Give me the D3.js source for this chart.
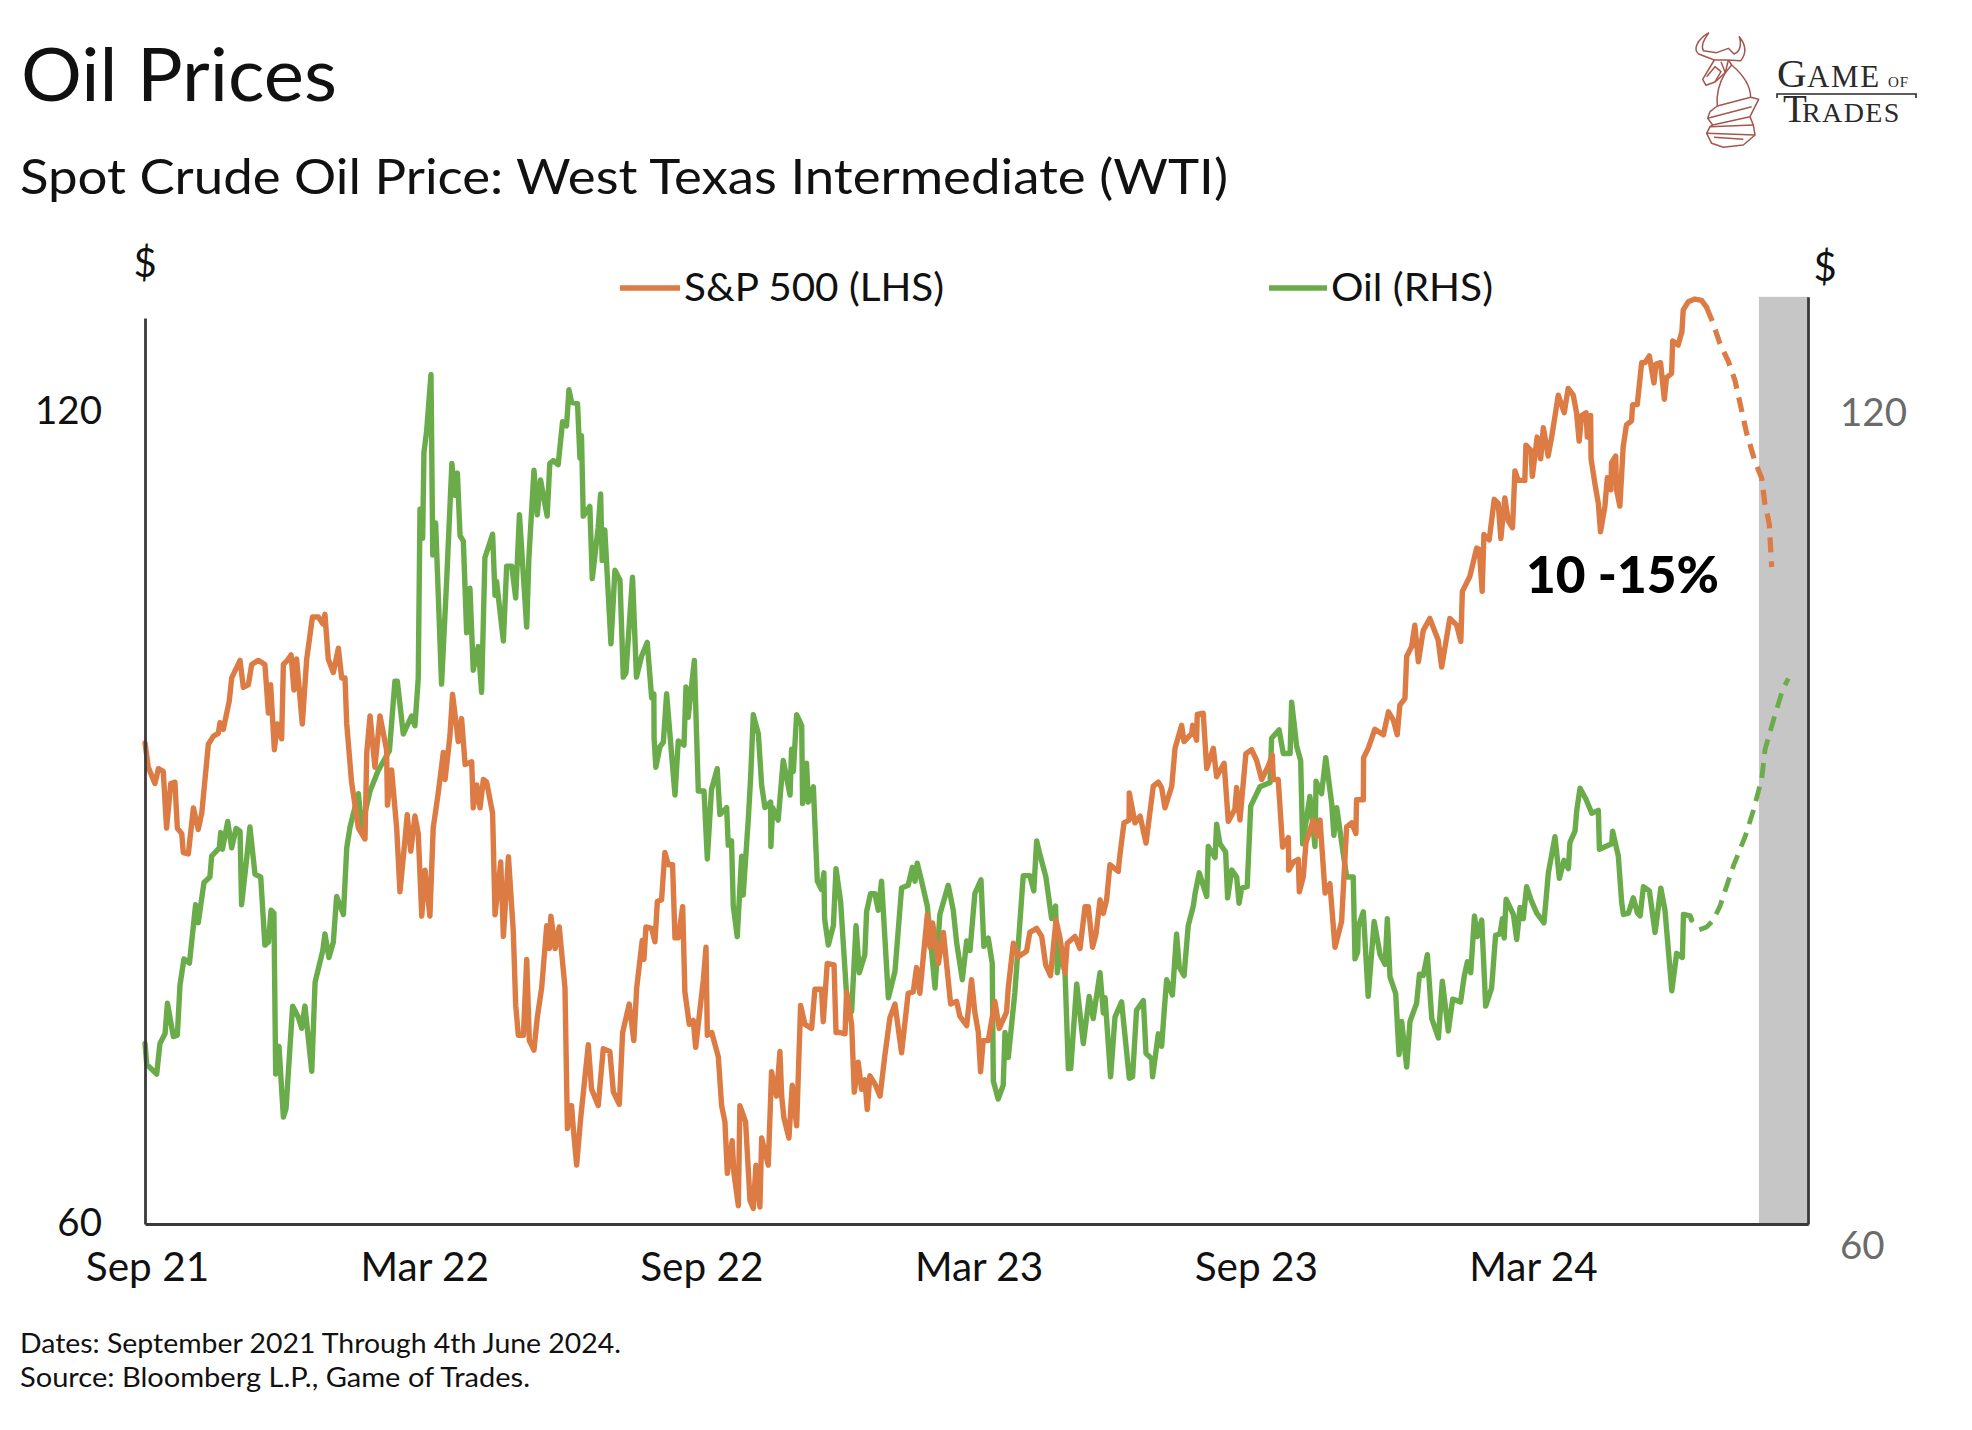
<!DOCTYPE html>
<html><head><meta charset="utf-8">
<script src="https://cdn.jsdelivr.net/npm/d3@7"></script>
<style>
html,body{margin:0;padding:0;background:#fff}
svg{display:block}
text{font-family:Lato,"Open Sans",sans-serif;fill:#111}
</style></head><body><svg id="c" width="1972" height="1430"></svg>
<script>
// [trading session since Sep 2021, value]
const spxSolid=[[0,95.4],[1.5,93.6],[4.5,92.4],[6.1,93.5],[8.3,93.3],[9.8,89.1],[11.7,92.4],[13.6,92.5],[14.7,89.1],[16.7,88.7],[17.4,87.3],[19.7,87.2],[22,90.6],[24.2,89],[25.8,90.2],[28.8,95.3],[31.1,95.9],[33.3,96.1],[34.1,96.9],[35.6,96.4],[38.3,98.5],[39.4,100.2],[43.2,101.5],[44.7,99.5],[47,99.7],[48.5,101.2],[51.5,101.5],[54.5,101.2],[56.1,97.6],[57.1,99.7],[58.8,94.9],[60.2,96.8],[62.1,95.7],[62.9,101.2],[64.7,101.5],[66.4,101.9],[67.7,99.3],[68.9,101.6],[71.5,96.8],[73.5,101.6],[76.1,104.7],[78.8,104.7],[80.8,104.2],[81.8,104.9],[83.3,101.6],[85.6,100.6],[87.9,102.4],[89.4,100.2],[90.9,100.2],[91.7,96.8],[93.9,92.5],[97,89.1],[100,88.3],[100.8,94.7],[102.3,97.4],[104.5,93.6],[106.8,97.4],[109.8,94.9],[110.2,90.8],[112.1,93.4],[114.4,89.1],[115.9,84.4],[118.2,88.3],[119.2,90.1],[120.8,87.4],[122.7,90],[124.2,88.7],[125.8,82.6],[127.3,86],[129.5,82.6],[131,89.1],[133.3,91.7],[135.6,94.7],[136.4,92.7],[138.6,95.9],[139.8,99],[142.4,95.5],[143.9,97.2],[145.5,93.8],[148.5,94],[149.2,90.6],[150.8,92.3],[152.3,90.6],[153.8,92.7],[155.3,92.5],[158,90.2],[159.1,82.7],[161.7,86.6],[162.9,81.1],[165.2,87],[167.4,81.5],[168.5,76],[169.7,73.8],[172,73.8],[173.5,79.4],[174.7,73.4],[176.8,72.7],[178.3,75.1],[180.3,77.3],[182.6,81.9],[183.8,80.2],[184.5,82.6],[186.4,80.2],[188.3,81.8],[190.9,77.3],[192,66.9],[193.9,68.6],[194.7,66.9],[196.2,64.2],[198,67.6],[201.5,73.1],[203,69.8],[206,68.6],[208.3,72.8],[211.3,72.6],[212.9,69.6],[215.6,68.7],[217.1,74],[220.1,76.1],[222.2,73.4],[223.5,77.3],[226,80.8],[226.8,79.4],[227.7,81.8],[230.3,81.7],[231.8,80.7],[232.9,83.7],[234.8,83.8],[236.3,87.3],[237.9,86.4],[239.8,86.4],[240.9,81],[242.4,81],[244.4,83.3],[245.4,77],[247.4,74.6],[249.2,74.9],[250.3,72.9],[253.8,77.9],[255,80.3],[255.6,73.8],[257.6,74],[260.6,72.2],[262.1,68.6],[263.6,67.4],[264.7,63.6],[266.9,66],[267.7,63.6],[269.7,61.2],[270.4,68.6],[273,67.4],[275,61.6],[276.5,61],[277.7,64.2],[279.5,61.1],[280.3,66.2],[283.3,64.2],[284.8,71.1],[287.1,69.3],[288.6,72.6],[289.4,69.3],[290.4,67.7],[292.7,66.2],[294.2,70.1],[296.2,67.1],[298,76],[300,74.6],[303,74.3],[304.5,77.2],[307.5,77.2],[308.3,74.8],[310.1,79.1],[313.2,79],[314.1,74],[315.9,74],[318.2,73.9],[318.9,77],[321.2,74.6],[322.4,69.6],[324.2,71.8],[325.7,69.8],[327.2,70.5],[328.3,68.3],[329.5,70.8],[331.8,70.2],[334.1,69.3],[336.3,72.3],[338.6,75.1],[340.9,76.1],[343.9,72.5],[346.9,76.9],[349.2,77],[350.7,78.8],[352.2,76.9],[355.6,82.7],[356.8,80.3],[358,82.1],[360.6,79.1],[362.9,81.4],[366.2,76.1],[368.9,76.3],[370.4,75.2],[373.5,74.5],[375.7,77.9],[377.2,75.5],[378.8,74],[379.8,71.1],[381,73.4],[383.3,73.4],[386.3,76.3],[388.3,74.3],[391.6,75.5],[392.4,77.3],[394.7,80.6],[396.9,79.6],[400.7,80],[402.2,81.4],[405.3,81.7],[407.6,81.1],[409.4,79],[411.6,78.2],[414.1,82.3],[415.9,81],[418.2,78.4],[419.2,80.6],[422.7,81.1],[425,80.2],[427.3,83.3],[428.8,83.3],[430.7,80.3],[432.3,81.3],[434.1,83.8],[435.6,82.8],[437.1,83.8],[438.6,86.4],[442.4,85.9],[442.9,86.8],[445,89.5],[447.3,89.7],[447.4,91.7],[450,89.5],[452.3,90],[455,88],[458.3,92.2],[460.6,92.5],[462.1,92.1],[463.6,90.6],[466.7,92.2],[468.2,95],[471.2,96.7],[472.3,95.5],[475.8,96.1],[476.2,96.7],[478,95.6],[478.3,97.5],[481,97.6],[482.6,93.5],[485.6,95],[487.1,92.9],[490.5,93.9],[492.4,89.6],[495.4,90.5],[496.2,92.1],[497.7,89.7],[500.4,94.6],[503,94.9],[505.3,94.1],[507.6,92.7],[510.6,93.7],[512.4,94.5],[512.9,92.7],[515.1,92.7],[517.1,87.7],[519.7,88.4],[519.9,86],[522,86.6],[524.2,86.8],[524.7,84.4],[526.5,85.5],[527.7,88],[531,89.7],[532.6,88.5],[534.1,89.7],[536.4,84.3],[538.6,85],[540.9,80.3],[543.9,82.2],[546.2,89.2],[548.5,89.5],[550.4,88.7],[550.7,91.2],[553.8,91.2],[553.9,94.3],[556,95],[559,96.4],[562.9,96],[565.2,97.7],[567.4,97.1],[569.2,96],[570.4,98.2],[572.7,98.7],[573.5,101.8],[575.7,102.5],[577.2,104.1],[578.8,101.4],[581,103.7],[584,104.6],[587.8,103],[589.4,101],[593.1,104.6],[596.2,104.1],[598.1,102.9],[598.8,106.6],[602.2,107.7],[605.3,109.8],[606.5,109.7],[607.8,106.6],[608.6,110.8],[611,110.4],[613.3,113.4],[615.1,113.1],[616.3,110.5],[618.1,113.5],[619.7,111.8],[621.6,111.3],[622.7,115.5],[624.2,114.8],[627.2,114.8],[627.7,117.4],[630,117],[630.6,115.1],[632.8,118],[634.4,116.4],[635.6,118.7],[637.8,116.6],[639.4,118],[642.4,121.1],[645.1,119.8],[646.9,121.6],[649.2,121.1],[650.7,119.8],[651.9,117.7],[653,119.6],[655,119.8],[655.6,118],[657.1,119.6],[657.3,116.4],[659.1,114.5],[660.6,113.1],[661.6,111],[663.6,112.9],[664.7,115],[666.3,114.1],[666.6,116.1],[668.5,116.6],[668.9,114.1],[670.4,112.9],[671.9,117.3],[673.4,118.9],[675.7,119.2],[676.2,120.4],[678.3,120.4],[680.3,123.5],[681.8,123.5],[683.8,124],[685.9,122],[686.8,123.4],[688.9,123.5],[690.6,120.8],[691.6,122.4],[693.9,122.7],[694.4,125.1],[696.9,124.8],[698.6,125.8],[699.2,127.4],[701.5,128],[704.5,128.2],[707.5,128.1],[709.8,127.6]];
const spxForecast=[[709.8,127.6],[712.8,126.4],[715.9,124.9],[719.7,123.6],[722.7,122.2],[725.3,120.3],[728,118.3],[731.8,116.2],[734.8,115],[736.3,113.1],[738.3,111.6],[739.4,108.4]];
const oilSolid=[[0,74.5],[0.8,73],[5.3,72.3],[6.8,74.5],[9.1,75.2],[10.2,77.4],[12.9,75],[14.7,75.1],[15.9,78.7],[17.7,80.6],[20.2,80.3],[23,84.5],[24.2,83.2],[26.8,86.1],[29.5,86.5],[30.3,88],[33.8,88.6],[34.4,89.7],[35.2,88.5],[37.6,90.5],[39.4,88.6],[41.4,90],[43.2,89.8],[43.9,84.5],[46.2,87.8],[47.7,90.1],[50,86.7],[52.6,86.5],[54.5,81.6],[56.1,81.8],[57.3,84.1],[58.6,83.9],[59.4,72.3],[60.9,74.3],[62.9,69.2],[64.1,69.8],[67.1,77.2],[69.7,76.4],[71.2,75.6],[72.7,77.2],[75.8,72.5],[77.3,78.9],[80.8,81.2],[81.8,82.4],[83.6,80.7],[85.6,81.8],[87.1,85.1],[90.2,83.8],[91.7,88.6],[93.2,90.1],[97,92.5],[98.5,90.1],[102.3,92.7],[106.1,94.2],[111.1,95.6],[113.6,100.6],[114.7,100.6],[117.4,96.8],[121.2,98.1],[122.7,97.4],[124.2,100.8],[125,113],[126.2,110.9],[126.8,117.1],[128,118.6],[130,122.7],[130.8,109.7],[132.1,112],[134.8,100.4],[137.1,107.8],[138.9,114.2],[139.5,116.3],[140.7,114],[142,115.6],[143.2,111.1],[144.7,110.7],[146.2,104.1],[147.7,107.3],[149.2,101.4],[151.5,103.1],[153,99.8],[154.5,109.5],[158,111.2],[159.1,106.8],[159.8,107.8],[162.9,103.5],[164.4,108.9],[166.7,108.9],[168.5,106.6],[170.2,112.6],[173.5,104.5],[174.5,109.5],[176.8,115.8],[178.3,112.6],[179.8,115.1],[182.8,112.5],[184,116.3],[185.6,116.5],[187.8,116.2],[189.8,119.3],[191.6,119],[192.7,121.6],[193.9,120.7],[196.6,120.6],[197.7,116.7],[198.4,118.3],[199.2,112.5],[202.2,113.2],[203.3,108],[206,111.7],[207.1,114.1],[207.8,109.3],[209,111.5],[211.8,103.3],[213.6,108.6],[215.9,107.9],[217.4,100.9],[218.6,101.2],[221.6,108.1],[223.4,100.9],[225.7,102.4],[228.3,103.4],[230.3,99.4],[231.3,99.7],[231.4,96.5],[232.2,94.4],[234.1,95.9],[235.6,96.2],[237.1,99.7],[238.6,96.8],[240.9,92.4],[242.4,96.3],[245,96],[245.9,100.2],[246.9,98],[249.7,102.1],[251.5,92.7],[254.1,92.7],[255.6,87.8],[257.5,92.8],[260.1,94.3],[261.3,91],[264.4,91.5],[265.1,88.8],[266.6,89.1],[267.4,84.4],[269.2,82.2],[271.2,88],[271.9,85.2],[274.2,90.6],[275.3,93.7],[276.5,98.2],[278.8,96.8],[280.3,93.1],[281.8,91.5],[284.4,91.9],[284.5,88.7],[285.3,91.5],[287.8,90.6],[290.1,94.9],[293.2,92.4],[293.9,95.7],[294.7,94.1],[296.2,98.2],[298.5,97.4],[298.9,91.8],[300.7,94.7],[301.5,91.9],[303.8,93],[305.6,86.2],[307.5,85.6],[308.6,86.8],[308.9,83.5],[310.6,81.6],[312.9,83],[314.1,87.1],[316.2,84.7],[318.9,78],[321.2,76.8],[323.2,83],[324.7,79.6],[327.2,80.9],[328,84],[329.8,85.3],[331.8,85.3],[333.3,84.1],[334.8,86.2],[337.9,77.8],[340.9,79.7],[343.9,85.7],[346.9,85.9],[348.8,87.2],[350,86.2],[351,87.5],[353,86.2],[355.6,84.4],[359.1,78.5],[361.3,83.8],[365.1,85.9],[367.4,84.1],[368.9,81.8],[371.5,79.1],[373.5,81.9],[375,81.2],[377.2,85.3],[380,86.3],[381.3,81.5],[383.3,82.1],[385.1,80.3],[385.6,71.8],[387.8,70.5],[390.1,71.5],[390.9,75.3],[392.4,73.5],[395.4,78.2],[399.2,86.6],[402.2,86.6],[404,85.5],[405.3,89.1],[406.8,88.1],[409.5,86.5],[412.1,83.5],[413.9,84.4],[414.7,79.6],[415.9,81.2],[418.2,79.6],[419.7,72.7],[420.8,72.7],[423.5,78.8],[426.5,74.5],[429.2,77.9],[431,76.3],[434.1,79.6],[435.6,76.7],[436.4,77.8],[438.9,72.1],[440.9,76.4],[443.9,77.5],[447.4,72],[448.9,72.1],[450.7,76.9],[453.8,77.6],[455,73.8],[457.6,73.4],[458,72.1],[460.6,75.2],[462.1,74.3],[463.2,76.7],[464.4,79.1],[467,78],[468.9,82.4],[470.1,80],[472.3,79.4],[474.2,83],[476.5,84.4],[477.3,85.3],[479.2,86.8],[482.6,85.1],[483.3,88.7],[486.4,87.9],[487.1,90.3],[488.6,88.9],[491.2,88.3],[492.1,85],[494,87],[496.2,86.5],[497.3,84.6],[498.5,85.7],[501,85.8],[502.6,91.6],[506.8,93],[511.4,93.3],[512.1,96.5],[515.5,97.1],[517.4,95.4],[520.5,95.4],[521.2,99.1],[523.5,95.9],[525.3,94.9],[526.2,88.9],[529.5,92.3],[531.8,88.7],[532.3,93.4],[534.8,92.5],[536.7,95.1],[539.4,91.8],[540.4,89.5],[541.7,91.5],[544,88.9],[546.2,86.5],[549.2,86.5],[550,80.6],[551.2,81.1],[551.5,82.9],[553.8,84],[556,77.9],[558.7,83.3],[561.4,80.9],[563.7,80.2],[564.7,83.5],[565.9,79.3],[568.5,78.1],[570,73.7],[571.2,76.1],[573.5,72.8],[575,76.1],[578,77.4],[579.3,79.5],[581,79.4],[582.9,80.9],[584.9,76.3],[587.9,74.9],[589.7,79],[592.4,75.4],[594.4,77.7],[598,77.5],[599.6,79.3],[601.1,80.4],[602.6,79.6],[604.3,83.7],[605.6,82.2],[607.6,83.4],[609.4,77.2],[612.1,78.5],[613.9,82.3],[615.9,82.4],[617,83.5],[617.8,82.1],[618.7,84.9],[622,83.8],[623.5,82],[625,84.3],[626.5,83.5],[628,85.8],[629.9,84.9],[632.6,83.9],[635.9,83.2],[637.9,86.8],[640.9,89.4],[642.9,86.4],[645,87.7],[647,87.1],[647.7,89],[650,89.8],[650.8,91.3],[652.3,92.9],[655,92.1],[657.6,91.1],[660.6,91.3],[661.1,88.5],[666.7,88.9],[667.1,89.8],[669.7,88],[671.2,84.7],[672,83.8],[674.3,83.9],[676.5,85],[678.4,83.9],[679.6,83.7],[681.1,85.8],[683.8,85.5],[686.4,82.5],[689,85.7],[690.9,84.1],[694,78.3],[696.2,81],[698.8,80.7],[699.3,83.8],[702.3,83.7],[703,83.4]];
const oilForecast=[[706.5,82.7],[709.9,82.9],[712.9,83.4],[715.9,84.4],[718.2,85.5],[722,87.3],[727.3,89.4],[731.1,91.3],[734.9,93.6],[736.4,95.7],[740.2,97.8],[744.4,100],[747,100.8]];

const sessionTicks=[0,126,252,378,504,630];
const sessionLabels=["Sep 21","Mar 22","Sep 22","Mar 23","Sep 23","Mar 24"];
const leftTicks=[60,120];
const rightTicks=[60,120];
const forecastBand=[733.6,756];
const title="Oil Prices";
const subtitle="Spot Crude Oil Price: West Texas Intermediate (WTI)";
const notes=["Dates: September 2021 Through 4th June 2024.","Source: Bloomberg L.P., Game of Trades."];
const ORANGE="#DC7B43",GREEN="#6BAC4A";

const svg=d3.select("#c");
const x=d3.scaleLinear().domain([0,756]).range([145,1808.2]);
const yL=d3.scaleLinear().domain([59.85,126.8]).range([1224,318]);
const yR=d3.scaleLinear().domain([61.5,128.3]).range([1224,296.8]);
const lineL=d3.line().x(d=>x(d[0])).y(d=>yL(d[1]));
const lineR=d3.line().x(d=>x(d[0])).y(d=>yR(d[1]));

svg.append("rect").attr("x",x(forecastBand[0])).attr("width",x(forecastBand[1])-x(forecastBand[0]))
  .attr("y",yR.range()[1]).attr("height",yR.range()[0]-yR.range()[1]).attr("fill","#c6c6c6");

function draw(d,l,c,dash,w){
  svg.append("path").datum(d).attr("d",l).attr("fill","none").attr("stroke",c)
    .attr("stroke-width",w).attr("stroke-linejoin","round").attr("stroke-linecap",dash?"butt":"round")
    .attr("stroke-dasharray",dash||null);
}
draw(oilSolid,lineR,GREEN,null,5.4);
draw(oilForecast,lineR,GREEN,"15 9",4.8);
draw(spxSolid,lineL,ORANGE,null,5.4);
draw(spxForecast,lineL,ORANGE,"15 9",5.2);

// axes
const axisStroke="#3a3a3a";
const gx=svg.append("g").attr("transform","translate(0,1224)")
  .call(d3.axisBottom(x).tickValues(sessionTicks).tickFormat((d,i)=>sessionLabels[i]).tickSize(0));
gx.selectAll("text").attr("font-size",40.5).attr("dy",0).attr("x",2).attr("y",57).style("font-family","Lato").attr("fill","#111");
const gl=svg.append("g").attr("transform","translate(145,0)")
  .call(d3.axisLeft(yL).tickValues(leftTicks).tickFormat(d3.format("d")).tickSize(0));
gl.selectAll("text").attr("font-size",38.5).attr("x",-43).attr("dy","0.35em").attr("fill","#111").style("font-family","Lato");
const gr=svg.append("g").attr("transform","translate(1808,0)")
  .call(d3.axisRight(yR).tickValues(rightTicks).tickFormat(d3.format("d")).tickSize(0));
gr.selectAll("text").attr("font-size",38.5).attr("x",32).attr("dy","0.35em").style("fill","#6b6b6b").style("font-family","Lato");
[gx,gl,gr].forEach(g=>g.select(".domain").attr("stroke",axisStroke).attr("stroke-width",2.8));

function T(s,xp,yp,size,opt={}){
  const t=svg.append("text").attr("x",xp).attr("y",yp).attr("font-size",size).text(s);
  if(opt.anchor)t.attr("text-anchor",opt.anchor);
  if(opt.weight)t.attr("font-weight",opt.weight);
  if(opt.len)t.attr("textLength",opt.len).attr("lengthAdjust","spacingAndGlyphs");
  if(opt.fill)t.style("fill",opt.fill);
  return t;
}
T(title,21,101,73,{len:316});
T(subtitle,20,194,48,{len:1208});
T("$",145,277,40,{anchor:"middle"});
T("$",1825,281,40,{anchor:"middle"});
// legend
const legendY=288;
svg.append("line").attr("x1",620).attr("x2",680).attr("y1",legendY).attr("y2",legendY).attr("stroke",ORANGE).attr("stroke-width",5.5);
T("S&P 500 (LHS)",684,301,38.5,{len:260});
svg.append("line").attr("x1",1269).attr("x2",1327).attr("y1",legendY).attr("y2",legendY).attr("stroke",GREEN).attr("stroke-width",5.5);
T("Oil (RHS)",1331,301,38.5,{len:162});
T("10 -15%",1526,593,51,{weight:900,len:193,fill:"#000"});
notes.forEach((n,i)=>T(n,20,1353+i*34,27,{len:i?510:601}));

// logo
const logo=svg.append("g").attr("transform","translate(1660,10) scale(0.3333)").attr("fill","none").attr("stroke","#a3574c").attr("stroke-width",4.5).attr("stroke-linejoin","round");
["M147,68 C112,88 98,118 116,132 L163,150 L200,150 L242,152 C260,130 258,105 238,80 C246,110 240,125 222,132 L205,115 L170,128 L130,122 C122,108 130,90 147,68",
 "M163,150 L128,208 L138,226 L165,216 L196,188 L205,150",
 "M140,200 L165,170 L183,185 L165,216 M183,155 L196,188 L215,165 L205,150",
 "M215,165 C250,195 272,230 272,262 L172,288 C168,250 180,215 196,188",
 "M172,288 L150,305 L143,325 L158,345 L270,320 L296,268 L272,262",
 "M143,325 L275,290 M158,345 L150,350 L140,370 L155,400 L190,412 L250,405 L285,375 L280,345 L270,320",
 "M150,350 L280,345 M140,370 L285,375 M162,382 L250,388"].forEach(d=>logo.append("path").attr("d",d));
const dark="#2a2a2a";
const wordmark=svg.append("text").style("font-family","Liberation Serif").style("fill",dark).style("font-weight","bold");
[["G",1777,87,41,0],["AME",1807,87,31,1.6],["OF",1888,87,15,0.8],["T",1783,122,39,0],["RADES",1802,122,28,1.4]].forEach(p=>{
  wordmark.append("tspan").attr("x",p[1]).attr("y",p[2]).attr("font-size",p[3]).attr("letter-spacing",p[4]).style("font-weight",p[3]>35?"normal":"normal").text(p[0]+(p[0]==="OF"?" ":""));
});
svg.append("path").attr("d","M1777,98 L1777,94 L1916,94 L1916,98").attr("fill","none").attr("stroke",dark).attr("stroke-width",1.6);
</script></body></html>
